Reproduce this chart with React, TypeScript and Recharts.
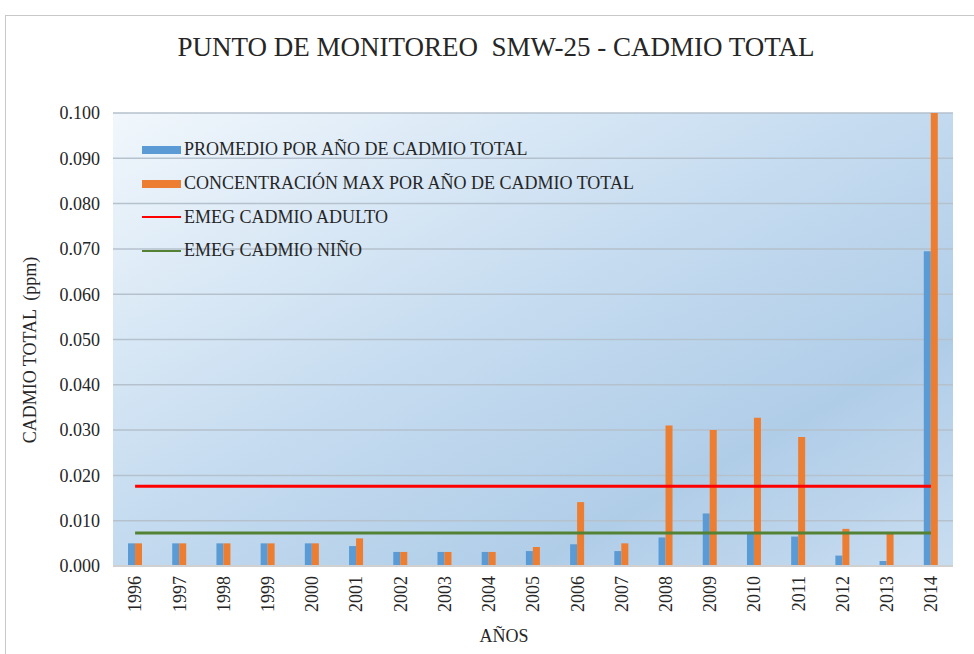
import React from "react";
import {
  ComposedChart,
  Bar,
  Line,
  XAxis,
  YAxis,
  CartesianGrid,
  Legend,
} from "recharts";

const years = [
  "1996", "1997", "1998", "1999", "2000", "2001", "2002", "2003", "2004", "2005",
  "2006", "2007", "2008", "2009", "2010", "2011", "2012", "2013", "2014",
];
const promedio = [
  0.005, 0.005, 0.005, 0.005, 0.005, 0.0044, 0.0031, 0.0031, 0.0031, 0.0033,
  0.0048, 0.0033, 0.0063, 0.0116, 0.0072, 0.0065, 0.0023, 0.0011, 0.0695,
];
const maxima = [
  0.005, 0.005, 0.005, 0.005, 0.005, 0.0061, 0.0031, 0.0031, 0.0031, 0.0042,
  0.0141, 0.005, 0.031, 0.03, 0.0327, 0.0285, 0.0082, 0.0073, 0.1,
];
const emegAdulto = 0.0176;
const emegNino = 0.0073;
const yTicks = [0, 0.01, 0.02, 0.03, 0.04, 0.05, 0.06, 0.07, 0.08, 0.09, 0.1];

const data = years.map((year, i) => ({
  year,
  promedio: promedio[i],
  maxima: maxima[i],
  adulto: emegAdulto,
  nino: emegNino,
}));

const FONT = "'Liberation Serif', 'Times New Roman', Times, serif";
const TEXT = "#262626";

const legendItems = [
  { label: "PROMEDIO POR AÑO DE CADMIO TOTAL", color: "#5b9bd5", kind: "bar" },
  { label: "CONCENTRACIÓN MAX POR AÑO DE CADMIO TOTAL", color: "#ed7d31", kind: "bar" },
  { label: "EMEG CADMIO ADULTO", color: "#ff0000", kind: "line" },
  { label: "EMEG CADMIO NIÑO", color: "#548235", kind: "line" },
];

const renderLegend = () => (
  <div style={{ fontFamily: FONT, fontSize: 18, color: TEXT }}>
    {legendItems.map((item) => (
      <div
        key={item.label}
        style={{ display: "flex", alignItems: "center", height: 33.7, whiteSpace: "nowrap" }}
      >
        <span
          style={{
            display: "inline-block",
            width: 39,
            height: item.kind === "bar" ? 8 : 2.5,
            background: item.color,
            marginRight: 3,
          }}
        />
        {item.label}
      </div>
    ))}
  </div>
);

const YearTick = ({ x, y, payload }: any) => (
  <g transform={`translate(${x},${y})`}>
    <text
      transform="rotate(-90)"
      x={0}
      y={0}
      dy="0.35em"
      textAnchor="end"
      fill={TEXT}
      fontSize={18}
      fontFamily={FONT}
    >
      {payload.value}
    </text>
  </g>
);

export default function App() {
  return (
    <div
      style={{
        position: "absolute",
        left: 0,
        top: 0,
        width: 974,
        height: 654,
        background: "#fff",
        overflow: "hidden",
      }}
    >
      <div
        style={{
          position: "absolute",
          left: 5,
          top: 15,
          width: 1000,
          height: 700,
          border: "1px solid #c8c8c8",
        }}
      />
      <div
        style={{
          position: "absolute",
          left: 496,
          top: 34,
          transform: "translateX(-50%)",
          fontFamily: FONT,
          fontSize: 27,
          lineHeight: "27px",
          color: TEXT,
          whiteSpace: "pre",
        }}
      >
        PUNTO DE MONITOREO  SMW-25 - CADMIO TOTAL
      </div>
      <div
        style={{
          position: "absolute",
          left: 30,
          top: 350,
          transform: "translate(-50%, -50%) rotate(-90deg)",
          fontFamily: FONT,
          fontSize: 18,
          lineHeight: "18px",
          color: TEXT,
          whiteSpace: "pre",
        }}
      >
        CADMIO TOTAL  (ppm)
      </div>
      <div
        style={{
          position: "absolute",
          left: 504,
          top: 627,
          transform: "translateX(-50%)",
          fontFamily: FONT,
          fontSize: 18,
          lineHeight: "18px",
          color: TEXT,
        }}
      >
        AÑOS
      </div>
      <ComposedChart
        width={974}
        height={654}
        data={data}
        margin={{ top: 113, right: 21, bottom: 38, left: 53 }}
        barGap={0}
        barCategoryGap="20%"
        style={{ position: "absolute", left: 0, top: 0 }}
      >
        <defs>
          <linearGradient id="plotBg" x1="0" y1="0" x2="1" y2="1">
            <stop offset="0%" stopColor="#f1f7fc" />
            <stop offset="45%" stopColor="#c6dcf0" />
            <stop offset="75%" stopColor="#b0cde8" />
            <stop offset="100%" stopColor="#c9ddf0" />
          </linearGradient>
        </defs>
        <CartesianGrid
          vertical={false}
          stroke="#b5c1cd"
          strokeWidth={1.5}
          fill="url(#plotBg)"
          fillOpacity={1}
        />
        <XAxis
          dataKey="year"
          height={50}
          interval={0}
          tickLine={false}
          tickMargin={4}
          axisLine={{ stroke: "#d0d0d0", strokeWidth: 2 }}
          tick={<YearTick />}
        />
        <YAxis
          width={60}
          domain={[0, 0.1]}
          ticks={yTicks}
          tickFormatter={(v: number) => v.toFixed(3)}
          axisLine={false}
          tickLine={false}
          tickSize={6}
          tickMargin={7}
          tick={{ fill: TEXT, fontSize: 18, fontFamily: FONT }}
        />
        <Legend
          layout="vertical"
          align="center"
          verticalAlign="middle"
          content={renderLegend}
          wrapperStyle={{ position: "absolute", left: 142, top: 133, width: 540, height: 140 }}
        />
        <Bar dataKey="promedio" fill="#5b9bd5" barSize={7} isAnimationActive={false} />
        <Bar dataKey="maxima" fill="#ed7d31" barSize={7} isAnimationActive={false} />
        <Line
          dataKey="adulto"
          stroke="#ff0000"
          strokeWidth={3}
          dot={false}
          activeDot={false}
          isAnimationActive={false}
        />
        <Line
          dataKey="nino"
          stroke="#548235"
          strokeWidth={3}
          dot={false}
          activeDot={false}
          isAnimationActive={false}
        />
      </ComposedChart>
    </div>
  );
}
